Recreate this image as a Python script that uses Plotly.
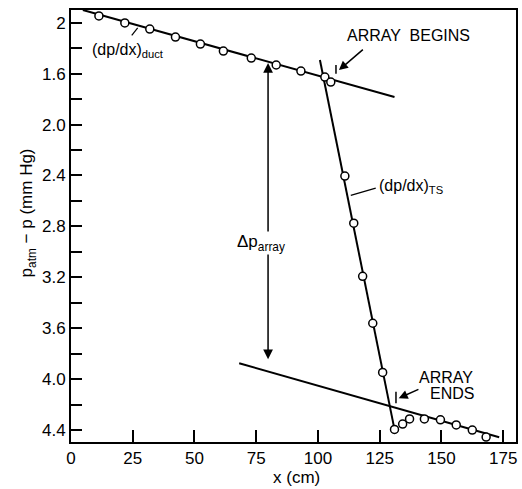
import plotly.graph_objects as go

# Measured points
duct_x = [11.3, 21.8, 31.9, 42.3, 52.4, 61.7, 73.0, 83.1, 93.1, 102.8, 105.2]
duct_y = [1.147, 1.202, 1.25, 1.313, 1.368, 1.423, 1.478, 1.532, 1.58, 1.627, 1.666]
ts_x = [110.9, 114.5, 118.1, 122.2, 126.2, 131.0]
ts_y = [2.405, 2.775, 3.192, 3.561, 3.947, 4.395]
end_x = [134.3, 137.1, 143.1, 149.6, 156.0, 162.5, 168.1]
end_y = [4.353, 4.313, 4.313, 4.32, 4.36, 4.40, 4.455]

# Fitted lines
duct_line_x = [4.8, 131.0]
duct_line_y = [1.10, 1.784]
ts_line_x = [100.8, 131.0]
ts_line_y = [1.493, 4.395]
end_line_x = [68.1, 173.4]
end_line_y = [3.875, 4.457]

# Axis ticks
x_ticks = [0, 25, 50, 75, 100, 125, 150, 175]
y_ticks = [1.2, 1.4, 1.6, 1.8, 2.0, 2.2, 2.4, 2.6, 2.8, 3.0, 3.2, 3.4, 3.6, 3.8, 4.0, 4.2, 4.4]
y_labels = ["2", "", "1.6", "", "2.0", "", "2.4", "", "2.8", "", "3.2", "", "3.6", "", "4.0", "", "4.4"]

FONT = "Liberation Sans, Arial, sans-serif"
fig = go.Figure()
line_style = dict(color="black", width=2)
for lx, ly in [(duct_line_x, duct_line_y), (ts_line_x, ts_line_y), (end_line_x, end_line_y)]:
    fig.add_trace(go.Scatter(x=lx, y=ly, mode="lines", line=line_style, showlegend=False, hoverinfo="skip"))

mk = dict(symbol="circle", size=8, color="white", line=dict(color="black", width=1.5))
for px, py in [(duct_x, duct_y), (ts_x, ts_y), (end_x, end_y)]:
    fig.add_trace(go.Scatter(x=px, y=py, mode="markers", marker=mk, showlegend=False))

# small tick marks for array begin/end
fig.add_trace(go.Scatter(x=[107.3, 107.3], y=[1.533, 1.60], mode="lines", line=dict(color="black", width=1.5), showlegend=False))
fig.add_trace(go.Scatter(x=[131.6, 131.6], y=[4.10, 4.19], mode="lines", line=dict(color="black", width=1.5), showlegend=False))
# leader lines
fig.add_trace(go.Scatter(x=[24.6, 27.0], y=[1.30, 1.24], mode="lines", line=dict(color="black", width=1.2), showlegend=False))
fig.add_trace(go.Scatter(x=[113.3, 123.4], y=[2.556, 2.50], mode="lines", line=dict(color="black", width=1.2), showlegend=False))

tf = dict(family=FONT, size=16, color="black")
ann = []
# double arrow delta p
ann.append(dict(x=79.8, y=1.517, ax=79.8, ay=3.922, xref="x", yref="y", axref="x", ayref="y",
                showarrow=True, arrowhead=2, arrowside="end+start", arrowsize=1.3, arrowwidth=1.5,
                arrowcolor="black", text=" "))
ann.append(dict(x=77.0, y=2.93, xref="x", yref="y", text="Δp<sub>array</sub>", showarrow=False,
                font=dict(family=FONT, size=17, color="black"), bgcolor="white", borderpad=0))
ann.append(dict(x=136.5, y=1.30, xref="x", yref="y", text="ARRAY  BEGINS", showarrow=False, font=tf))
ann.append(dict(x=108.5, y=1.572, ax=119.4, ay=1.391, xref="x", yref="y", axref="x", ayref="y",
                showarrow=True, arrowhead=2, arrowsize=1.2, arrowwidth=1.5, arrowcolor="black", text=" "))
ann.append(dict(x=152.0, y=3.985, xref="x", yref="y", text="ARRAY", showarrow=False, font=tf))
ann.append(dict(x=154.4, y=4.111, xref="x", yref="y", text="ENDS", showarrow=False, font=tf))
ann.append(dict(x=132.7, y=4.15, ax=141.9, ay=4.07, xref="x", yref="y", axref="x", ayref="y",
                showarrow=True, arrowhead=2, arrowsize=1.2, arrowwidth=1.5, arrowcolor="black", text=" "))
ann.append(dict(x=7.5, y=1.415, xref="x", yref="y", text="(dp/dx)<sub>duct</sub>", showarrow=False,
                font=tf, xanchor="left"))
ann.append(dict(x=124.0, y=2.49, xref="x", yref="y", text="(dp/dx)<sub>TS</sub>", showarrow=False,
                font=tf, xanchor="left"))
fig.update_layout(annotations=ann)
fig.add_annotation(x=-0.125, y=0.53, xref="paper", yref="paper", text="p<sub>atm</sub> − p (mm Hg)",
                   textangle=-90, showarrow=False, font=dict(family=FONT, size=17, color="black"))
fig.add_annotation(x=0.507, y=-0.083, xref="paper", yref="paper", text="x (cm)", showarrow=False,
                   font=dict(family=FONT, size=17, color="black"), yanchor="middle")

fig.update_xaxes(range=[0, 180.2], tickvals=x_ticks, ticks="inside", ticklen=12, tickwidth=1.5,
                 tickcolor="black", showline=True, linecolor="black", linewidth=2, mirror=True,
                 showgrid=False, zeroline=False, tickfont=dict(family=FONT, size=17, color="black"))
fig.update_yaxes(range=[4.494, 1.1], tickvals=y_ticks, ticktext=y_labels, ticks="inside", ticklen=11,
                 tickwidth=1.5, tickcolor="black", showline=True, linecolor="black", linewidth=2,
                 mirror=True, showgrid=False, zeroline=False,
                 tickfont=dict(family=FONT, size=17, color="black"))
fig.update_layout(width=522, height=489, margin=dict(l=71, r=4, t=10, b=47),
                  plot_bgcolor="white", paper_bgcolor="white", showlegend=False)
fig.write_html("out.html")
